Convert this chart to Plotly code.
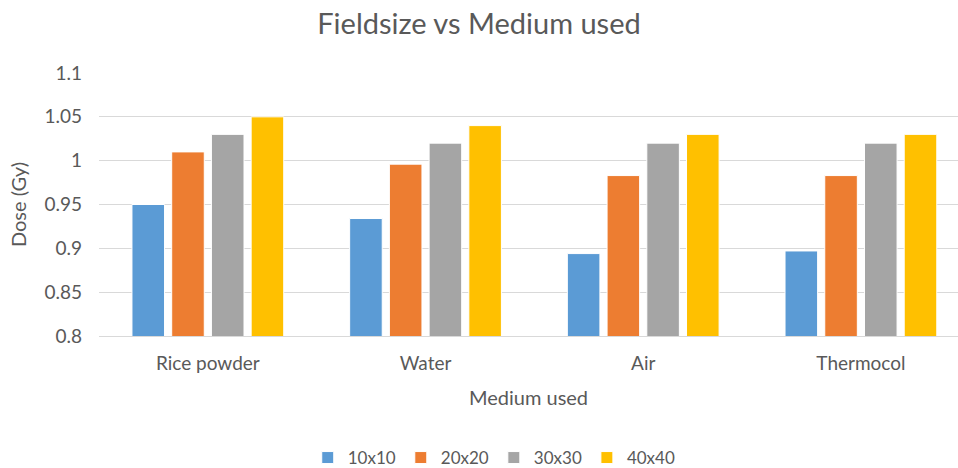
import plotly.graph_objects as go

media = ["Rice powder", "Water", "Air", "Thermocol"]
field_sizes = ["10x10", "20x20", "30x30", "40x40"]
dose_10 = [0.95, 0.934, 0.894, 0.897]
dose_20 = [1.01, 0.996, 0.983, 0.983]
dose_30 = [1.03, 1.02, 1.02, 1.02]
dose_40 = [1.05, 1.04, 1.03, 1.03]
colors = ["#5b9bd5", "#ed7d31", "#a5a5a5", "#ffc000"]

fig = go.Figure()
for name, vals, c in zip(field_sizes, [dose_10, dose_20, dose_30, dose_40], colors):
    fig.add_trace(go.Bar(
        x=media, y=vals, name=name,
        marker=dict(color=c, line=dict(color="white", width=1)),
    ))

font_family = "Lato, Open Sans, sans-serif"
fig.update_layout(
    width=958, height=468,
    paper_bgcolor="white", plot_bgcolor="white",
    margin=dict(l=99, r=0, t=73, b=132, autoexpand=False),
    barmode="group", bargap=0.27, bargroupgap=0.18,
    font=dict(family=font_family, color="#595959", size=19),
    title=dict(text="Fieldsize vs Medium used", x=0.5, xanchor="center",
               xref="container", y=1 - 24 / 468, yanchor="middle",
               font=dict(size=29, color="#595959")),
    legend=dict(orientation="h", x=0.243, xanchor="left",
                yref="container", y=10 / 468, yanchor="middle",
                font=dict(size=17, color="#595959"), traceorder="normal",
                itemwidth=30),
)
fig.update_xaxes(
    title=dict(text="Medium used", font=dict(size=20), standoff=18),
    range=[-0.5, 3.446], automargin=False,
    showline=True, linecolor="#d9d9d9", linewidth=1,
    ticks="", tickfont=dict(size=19), ticklabelstandoff=10,
)
fig.update_yaxes(
    title=dict(text="Dose (Gy)", font=dict(size=20), standoff=12),
    range=[0.8, 1.1], dtick=0.05, automargin=False,
    showgrid=True, gridcolor="#d9d9d9", gridwidth=1,
    zeroline=False, tickfont=dict(size=19), ticks="", ticklabelstandoff=16,
)

fig.write_html("out.html", config={"displayModeBar": False},
               post_script="document.body.style.margin='0';")
